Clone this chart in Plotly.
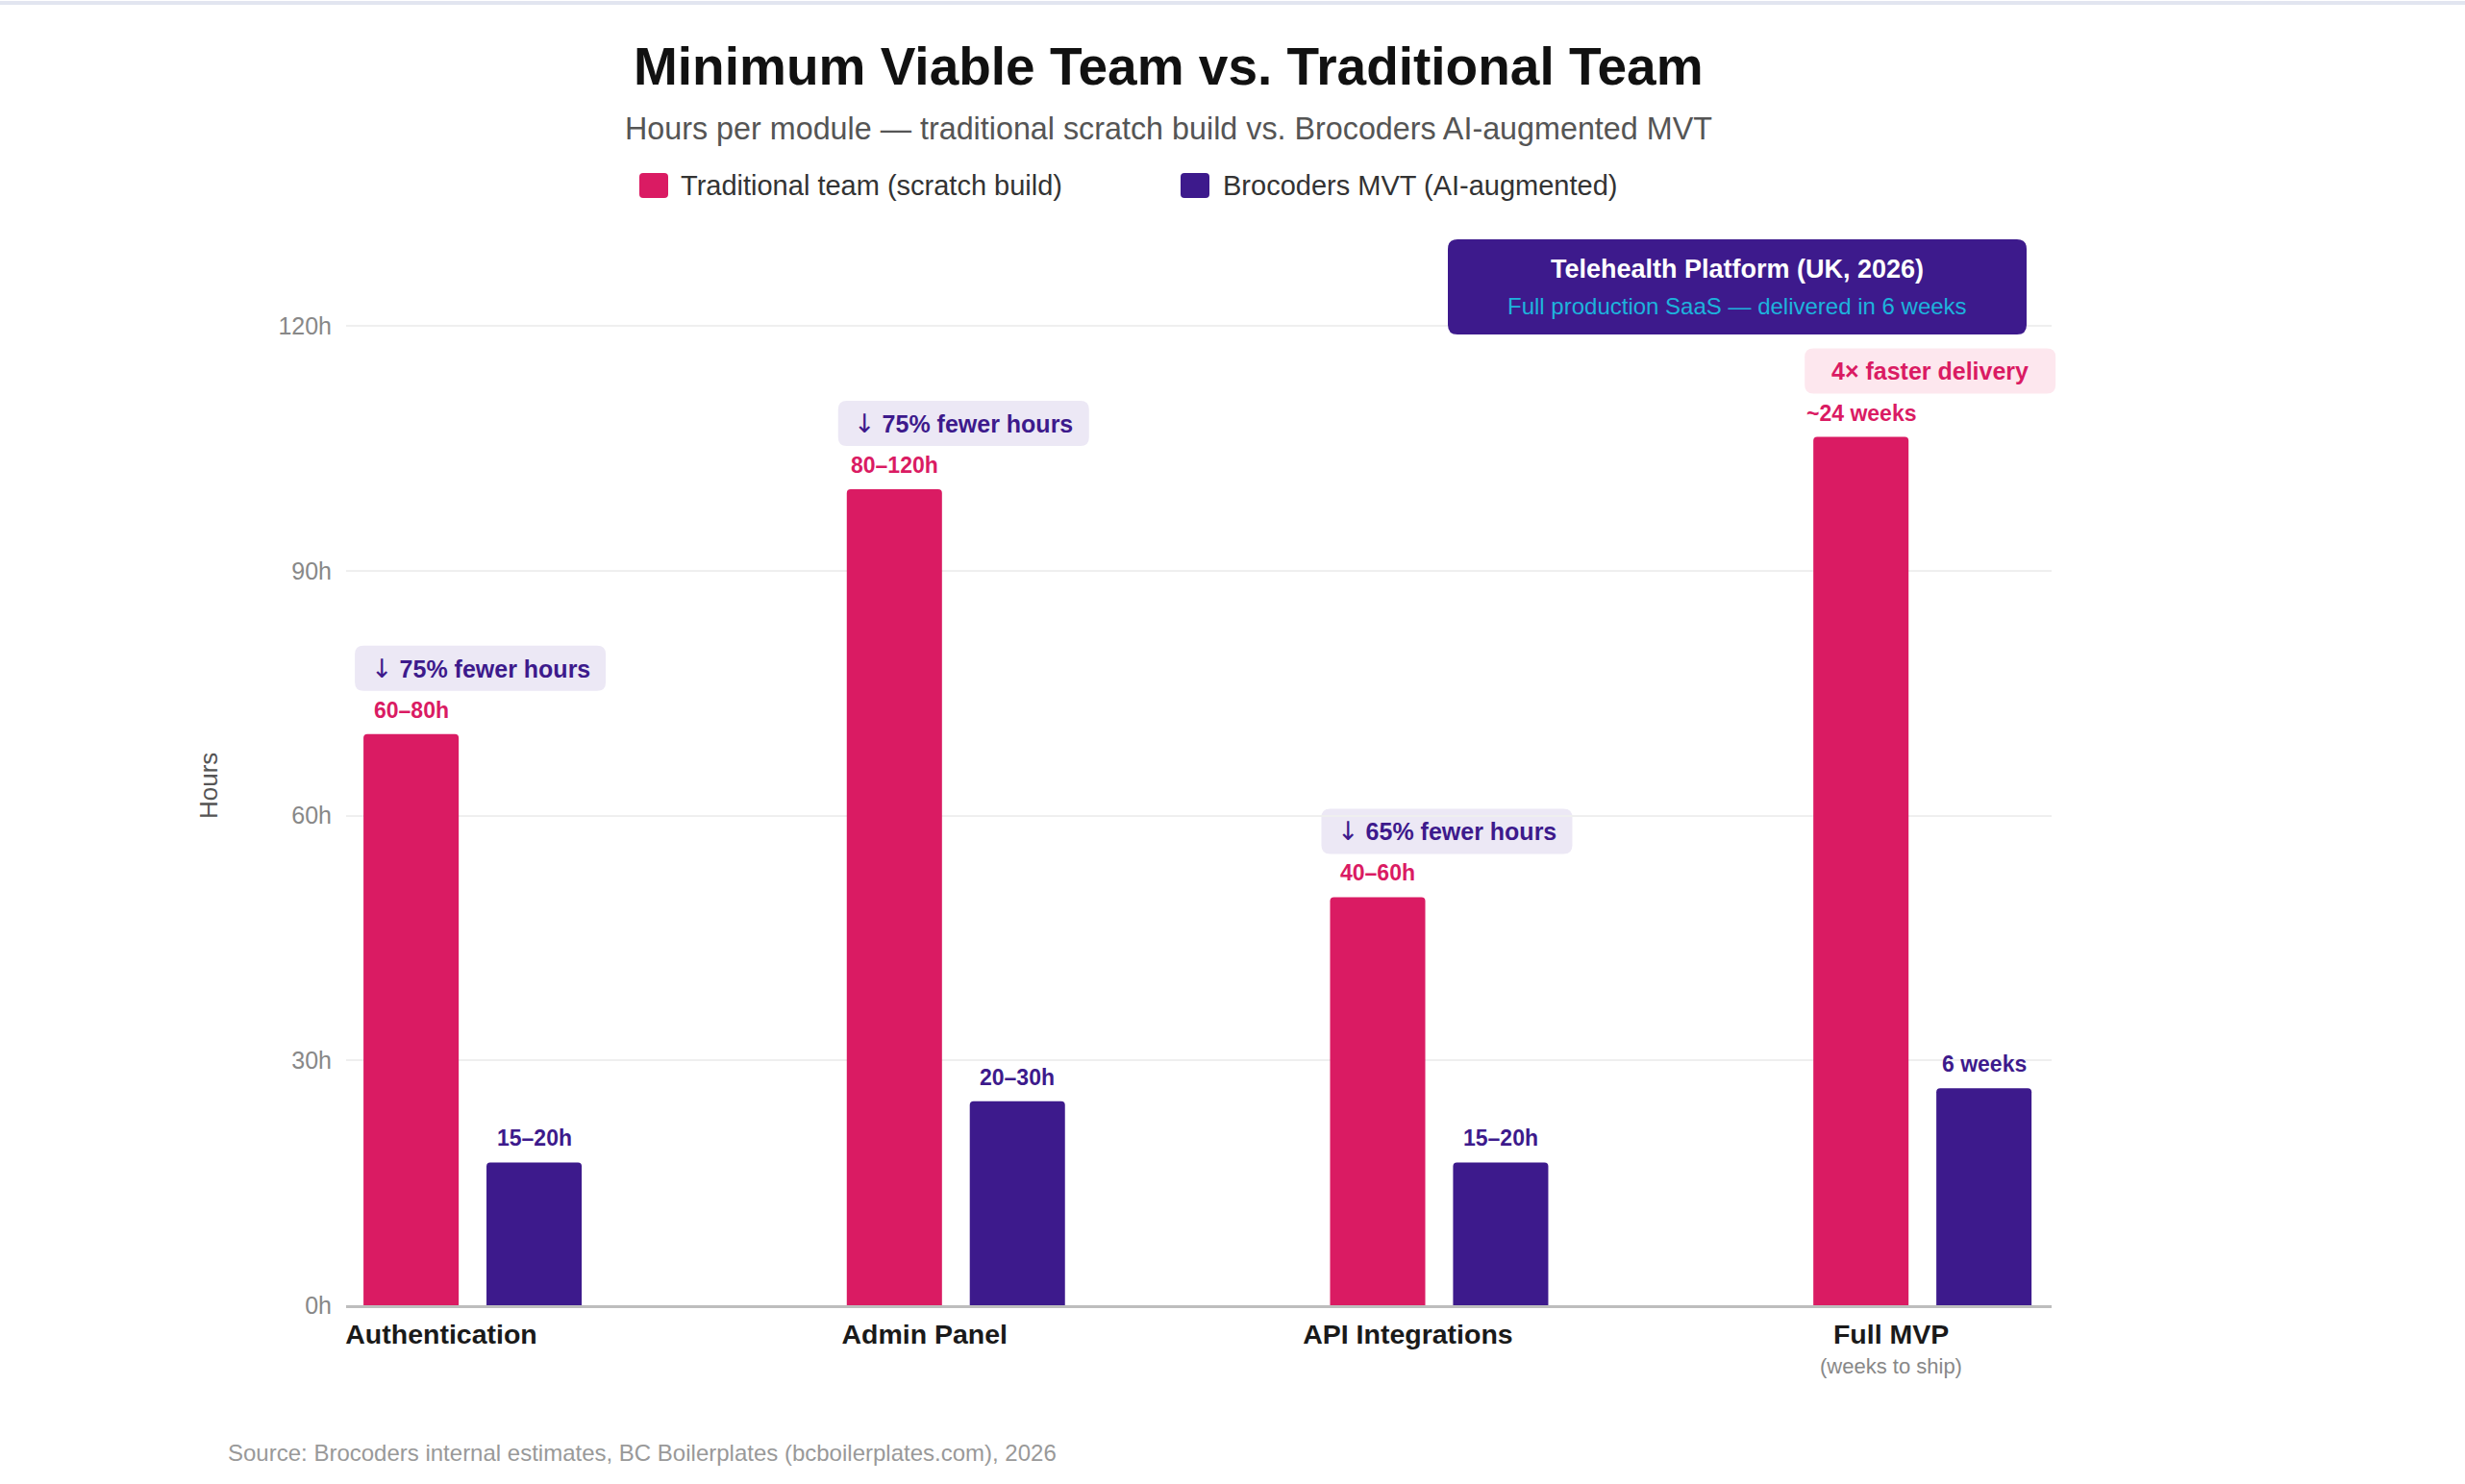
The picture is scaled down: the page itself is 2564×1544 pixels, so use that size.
import plotly.graph_objects as go

# ---------------- data ----------------
categories = ["Authentication", "Admin Panel", "API Integrations", "Full MVP"]
tick_labels = ["<b>Authentication</b>", "<b>Admin Panel</b>", "<b>API Integrations</b>", "<b>Full MVP</b>"]
tick_sublabels = ["", "", "", "(weeks to ship)"]
series_names = ["Traditional team (scratch build)", "Brocoders MVT (AI-augmented)"]
traditional = [70, 100, 50, 106.4]
mvt = [17.5, 25, 17.5, 26.6]
traditional_labels = ["60–80h", "80–120h", "40–60h", "~24 weeks"]
mvt_labels = ["15–20h", "20–30h", "15–20h", "6 weeks"]
badge_arrows = ["↓", "↓", "↓", ""]
badge_texts = ["75% fewer hours", "75% fewer hours", "65% fewer hours", "4× faster delivery"]
badge_kinds = ["saving", "saving", "saving", "speed"]
y_ticks = [0, 30, 60, 90, 120]

title_text = "Minimum Viable Team vs. Traditional Team"
subtitle_text = "Hours per module — traditional scratch build vs. Brocoders AI-augmented MVT"
callout_title = "Telehealth Platform (UK, 2026)"
callout_sub = "Full production SaaS — delivered in 6 weeks"
source_text = "Source: Brocoders internal estimates, BC Boilerplates (bcboilerplates.com), 2026"

# ---------------- style ----------------
W, H = 2564, 1544
ML, MR, MT, MB = 360, 430, 250, 186
PW, PH = W - ML - MR, H - MT - MB
FONT = "Liberation Sans, Arial, Helvetica, sans-serif"
PINK = "#DA1B63"
PURPLE = "#3D1A8C"
LAVENDER = "#ECE8F5"
PINK_LIGHT = "#FDE7EE"
CYAN = "#1DB3DC"
BAR_W = 0.197
PINK_OFF = -0.161
PURPLE_OFF = 0.0935
X_RANGE = [-0.197, 3.332]
Y_MAX = 130.5


def px_x(px):
    return (px - ML) / PW


def px_y(py):
    return (H - MB - py) / PH


def data_to_paper_x(v):
    return (v - X_RANGE[0]) / (X_RANGE[1] - X_RANGE[0])


def data_to_paper_y(v):
    return v / Y_MAX


def rr(x0, y0, x1, y1, r):
    return (f"M{x0 + r},{y0} L{x1 - r},{y0} Q{x1},{y0} {x1},{y0 + r} "
            f"L{x1},{y1 - r} Q{x1},{y1} {x1 - r},{y1} L{x0 + r},{y1} "
            f"Q{x0},{y1} {x0},{y1 - r} L{x0},{y0 + r} Q{x0},{y0} {x0 + r},{y0} Z")


fig = go.Figure()
fig.add_trace(go.Bar(x=categories, y=traditional, name=series_names[0],
                     width=BAR_W, offset=PINK_OFF,
                     marker=dict(color=PINK, line=dict(width=0)), showlegend=False,
                     hoverinfo="skip"))
fig.add_trace(go.Bar(x=categories, y=mvt, name=series_names[1],
                     width=BAR_W, offset=PURPLE_OFF,
                     marker=dict(color=PURPLE, line=dict(width=0)), showlegend=False,
                     hoverinfo="skip"))

shapes = []
annotations = []

for i in range(len(categories)):
    # value labels
    annotations.append(dict(x=i + PINK_OFF + BAR_W / 2, y=traditional[i], xref="x", yref="y",
                            text=f"<b>{traditional_labels[i]}</b>", showarrow=False,
                            yanchor="middle", xanchor="center", yshift=25,
                            font=dict(size=23, color=PINK, family=FONT)))
    annotations.append(dict(x=i + PURPLE_OFF + BAR_W / 2, y=mvt[i], xref="x", yref="y",
                            text=f"<b>{mvt_labels[i]}</b>", showarrow=False,
                            yanchor="middle", xanchor="center", yshift=25,
                            font=dict(size=23, color=PURPLE, family=FONT)))
    # badges (paper refs so they are not clipped at the plot edge)
    fill = LAVENDER if badge_kinds[i] == "saving" else PINK_LIGHT
    tcol = PURPLE if badge_kinds[i] == "saving" else PINK
    ax_p = data_to_paper_x(i + PINK_OFF)
    ay_p = data_to_paper_y(traditional[i])
    shapes.append(dict(type="path", xref="paper", yref="paper", xsizemode="pixel", ysizemode="pixel",
                       xanchor=ax_p, yanchor=ay_p,
                       path=rr(-9, 45, 252, 92, 9), fillcolor=fill, line=dict(width=0),
                       layer="below"))
    if badge_arrows[i]:
        label = (f"<span style='font-family:DejaVu Sans;font-weight:normal;font-size:27px'>"
                 f"{badge_arrows[i]}</span> <b>{badge_texts[i]}</b>")
    else:
        label = f"<b>{badge_texts[i]}</b>"
    annotations.append(dict(x=ax_p, y=ay_p, xref="paper", yref="paper",
                            xshift=121.5, yshift=68.5, text=label,
                            showarrow=False, xanchor="center", yanchor="middle",
                            font=dict(size=25, color=tcol, family=FONT)))
    # secondary category label
    if tick_sublabels[i]:
        annotations.append(dict(x=i, y=px_y(1421), xref="x", yref="paper",
                                text=tick_sublabels[i], showarrow=False,
                                xanchor="center", yanchor="middle",
                                font=dict(size=22, color="#888888", family=FONT)))

# callout box (top right)
shapes.append(dict(type="path", xref="paper", yref="paper", xsizemode="pixel", ysizemode="pixel",
                   xanchor=1, yanchor=1, path=rr(1506 - 2134, MT - 348, 2108 - 2134, MT - 249, 10),
                   fillcolor=PURPLE, line=dict(width=0)))
annotations.append(dict(x=px_x(1807), y=px_y(280), xref="paper", yref="paper",
                        text=f"<b>{callout_title}</b>", showarrow=False,
                        xanchor="center", yanchor="middle",
                        font=dict(size=27, color="#FFFFFF", family=FONT)))
annotations.append(dict(x=px_x(1807), y=px_y(318), xref="paper", yref="paper",
                        text=callout_sub, showarrow=False,
                        xanchor="center", yanchor="middle",
                        font=dict(size=24, color=CYAN, family=FONT)))

# title / subtitle
annotations.append(dict(x=px_x(1215), y=px_y(69), xref="paper", yref="paper",
                        text=f"<b>{title_text}</b>", showarrow=False,
                        xanchor="center", yanchor="middle",
                        font=dict(size=55, color="#111111", family=FONT)))
annotations.append(dict(x=px_x(1215), y=px_y(134), xref="paper", yref="paper",
                        text=subtitle_text, showarrow=False,
                        xanchor="center", yanchor="middle",
                        font=dict(size=32.3, color="#555555", family=FONT)))

# legend (manual)
legend_items = [(665, 706, PINK, series_names[0]), (1228, 1270, PURPLE, series_names[1])]
for sx, tx, col, name in legend_items:
    shapes.append(dict(type="path", xref="paper", yref="paper", xsizemode="pixel", ysizemode="pixel",
                       xanchor=0, yanchor=1, path=rr(sx - ML, MT - 206, sx + 30 - ML, MT - 180, 4),
                       fillcolor=col, line=dict(width=0)))
    annotations.append(dict(x=px_x(tx), y=px_y(193), xref="paper", yref="paper",
                            text=name, showarrow=False, xanchor="left", yanchor="middle",
                            font=dict(size=29, color="#333333", family=FONT)))

# y-axis title
annotations.append(dict(x=px_x(217), y=px_y(818), xref="paper", yref="paper",
                        text="Hours", showarrow=False, textangle=-90,
                        xanchor="center", yanchor="middle",
                        font=dict(size=26, color="#555555", family=FONT)))

# source
annotations.append(dict(x=px_x(235), y=px_y(1511), xref="paper", yref="paper",
                        text=source_text, showarrow=False, xanchor="left", yanchor="middle",
                        font=dict(size=24, color="#999999", family=FONT)))

# top border line
shapes.append(dict(type="line", xref="paper", yref="paper", x0=px_x(0), x1=px_x(W),
                   y0=px_y(3), y1=px_y(3), line=dict(color="#E2E5F0", width=4)))

fig.update_layout(
    width=W, height=H,
    margin=dict(l=ML, r=MR, t=MT, b=MB, autoexpand=False),
    paper_bgcolor="#FFFFFF", plot_bgcolor="#FFFFFF",
    barmode="overlay", barcornerradius=4,
    font=dict(family=FONT),
    shapes=shapes, annotations=annotations,
    showlegend=False,
    xaxis=dict(type="category", range=X_RANGE, tickmode="array",
               tickvals=categories, ticktext=tick_labels,
               tickfont=dict(size=28.5, color="#1A1A1A", family=FONT),
               showline=True, linecolor="#BDBDBD", linewidth=3, showgrid=False,
               ticks="", ticklabelstandoff=3, automargin=False, fixedrange=True),
    yaxis=dict(range=[0, Y_MAX], tickmode="array", tickvals=y_ticks,
               ticktext=[f"{v}h" for v in y_ticks],
               tickfont=dict(size=25, color="#888888", family=FONT),
               showgrid=True, gridcolor="#EFEFEF", gridwidth=2, zeroline=False,
               showline=False, ticks="", ticklabelstandoff=14, automargin=False,
               fixedrange=True),
)

fig.write_html("out.html")
